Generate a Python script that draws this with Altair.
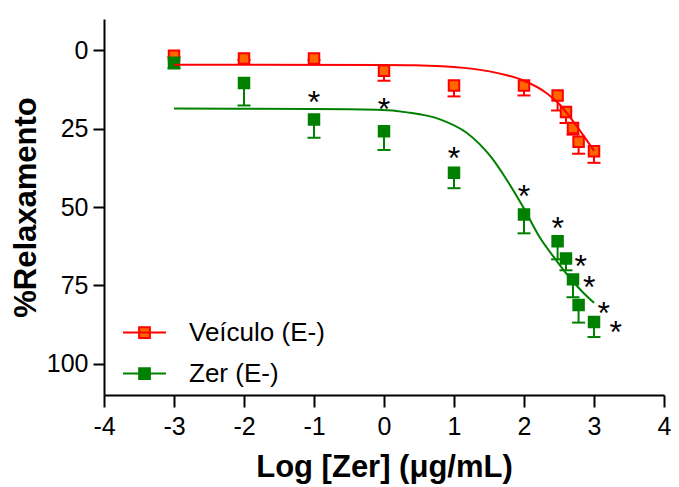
import altair as alt
import pandas as pd

# ---- data ----
series = ["Veículo (E-)", "Zer (E-)"]
dose = [-3, -2, -1, 0, 1, 2, 2.48, 2.6, 2.7, 2.78, 3]
veh_mean = [1.7, 2.6, 2.6, 6.5, 11.2, 11.2, 14.4, 19.7, 24.8, 29.2, 32.2]
veh_err = [0.5, 0.5, 0.5, 3.2, 3.5, 3.2, 4.8, 3.5, 2.1, 3.8, 3.7]
zer_mean = [4.0, 10.4, 22.1, 25.8, 39.1, 52.4, 60.9, 66.4, 73.1, 81.3, 86.7]
zer_err = [1.8, 7.2, 5.8, 6.0, 4.9, 6.0, 5.8, 3.8, 5.7, 5.6, 4.8]

# fitted curves
veh_fit_x = [-3, 0, 0.43, 1.14, 1.61, 2.0, 2.32, 2.51, 2.7, 2.89, 3.0]
veh_fit_y = [4.6, 4.7, 4.8, 5.6, 7.2, 9.7, 13.6, 17.3, 22.6, 28.5, 32.0]
zer_fit_x = [-3, -1, -0.1, 0.33, 0.81, 1.18, 1.52, 1.75, 2.0, 2.22, 2.46, 2.65, 2.84, 3.0]
zer_fit_y = [18.6, 18.7, 19.0, 19.8, 22.1, 26.3, 33.8, 41.2, 50.5, 59.5, 67.0, 72.5, 77.2, 80.6]

# significance marks
star_x = [-1, 0, 1, 2, 2.48, 2.81, 2.93, 3.14, 3.31]
star_y = [14.4, 16.6, 32.0, 44.2, 54.5, 66.5, 73.4, 81.7, 87.7]

x_ticks = [-4, -3, -2, -1, 0, 1, 2, 3, 4]
y_ticks = [0, 25, 50, 75, 100]

RED = "#FF0000"
ORANGE = "#FF6600"
GREEN = "#008000"
FONT = "Liberation Sans"

pts = pd.DataFrame({
    "x": dose * 2,
    "y": veh_mean + zer_mean,
    "lo": [m + e for m, e in zip(veh_mean, veh_err)] + [m + e for m, e in zip(zer_mean, zer_err)],
    "serie": [series[0]] * len(dose) + [series[1]] * len(dose),
})
veh = pts[pts.serie == series[0]]
zer = pts[pts.serie == series[1]]
veh_fit = pd.DataFrame({"x": veh_fit_x, "y": veh_fit_y})
zer_fit = pd.DataFrame({"x": zer_fit_x, "y": zer_fit_y})
stars = pd.DataFrame({"x": star_x, "y": star_y, "t": ["*"] * len(star_x)})

xs = alt.Scale(domain=[-4, 4], nice=False, zero=False)
ys = alt.Scale(domain=[-10, 110], reverse=True, nice=False, zero=False)

X = alt.X("x:Q", scale=xs, axis=alt.Axis(
    title="Log [Zer] (μg/mL)", values=x_ticks, labelExpr="'' + datum.value",
    labelFlush=False, grid=False, tickSize=12, tickWidth=2, domainWidth=2,
    domainColor="black", tickColor="black", labelFontSize=25, labelFont=FONT,
    labelColor="black", labelPadding=7, titleFontSize=31, titleFont=FONT,
    titleFontWeight="bold", titleColor="black", titlePadding=13))
Y = alt.Y("y:Q", scale=ys, axis=alt.Axis(
    title="%Relaxamento", values=y_ticks, grid=False, tickSize=11, tickWidth=2,
    domainWidth=2, domainColor="black", tickColor="black", labelFontSize=25,
    labelFont=FONT, labelColor="black", labelPadding=5, titleFontSize=31,
    titleFont=FONT, titleFontWeight="bold", titleColor="black", titlePadding=4))


def errbars(df, col):
    rule = alt.Chart(df).mark_rule(color=col, strokeWidth=2).encode(
        x=X, y=Y, y2="lo:Q")
    cap = alt.Chart(df).mark_tick(color=col, orient="horizontal", size=13,
                                  thickness=2, opacity=1).encode(
        x="x:Q", y="lo:Q")
    return rule + cap


legend_path = "M-1,0H1M-0.25,-0.25H0.25V0.25H-0.25Z"
leg = dict(title=None, orient="none", legendX=18, legendY=291,
           symbolType=legend_path, symbolSize=1849, symbolStrokeWidth=2,
           labelFontSize=26, labelFont=FONT, labelColor="black",
           labelOffset=22, rowPadding=5, padding=0)
squares = alt.Chart(pts).mark_square(opacity=1, strokeWidth=2, size=110).encode(
    x="x:Q", y="y:Q",
    fill=alt.Fill("serie:N", scale=alt.Scale(domain=series, range=[ORANGE, GREEN]),
                  legend=alt.Legend(**leg)),
    stroke=alt.Stroke("serie:N", scale=alt.Scale(domain=series, range=[RED, GREEN]),
                      legend=alt.Legend(**leg)),
    order=alt.Order("serie:N"),
)

veh_line = alt.Chart(veh_fit).mark_line(color=RED, strokeWidth=2, interpolate="monotone").encode(x="x:Q", y="y:Q")
zer_line = alt.Chart(zer_fit).mark_line(color=GREEN, strokeWidth=2, interpolate="monotone").encode(x="x:Q", y="y:Q")

star_text = alt.Chart(stars).mark_text(fontSize=32, font=FONT, color="black",
                                       baseline="alphabetic", dy=18).encode(
    x="x:Q", y="y:Q", text="t:N")

chart = alt.layer(
    errbars(veh, RED), errbars(zer, GREEN), squares, veh_line, zer_line, star_text
).properties(
    width=560, height=376,
    autosize=alt.AutoSizeParams(type="none"),
    padding={"left": 96, "top": 11, "right": 7, "bottom": 95},
).configure_view(stroke=None)

chart.save("out.html", embed_options={"renderer": "svg", "actions": False})
